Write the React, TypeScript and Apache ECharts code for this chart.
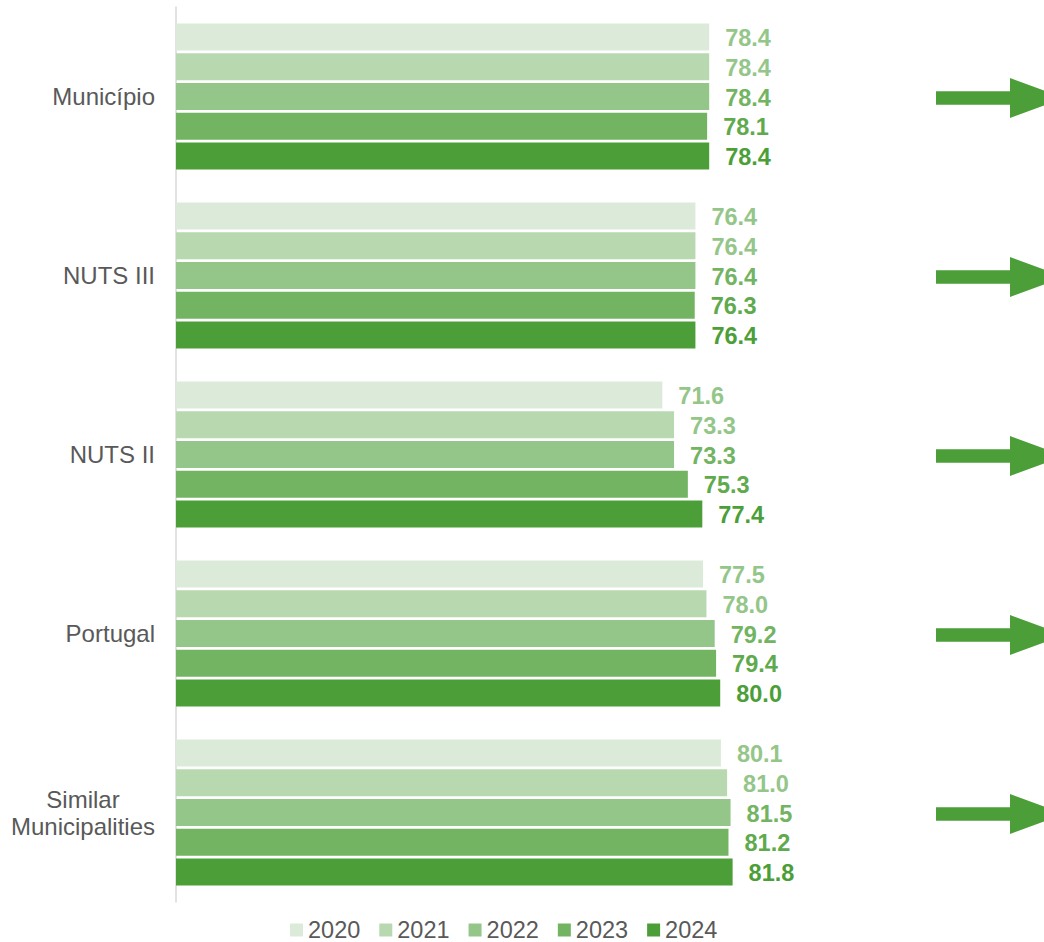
import React, { useEffect, useRef } from "react";
import * as echarts from "echarts";

const categories = ["Município", "NUTS III", "NUTS II", "Portugal", "Similar Municipalities"];
const years = ["2020", "2021", "2022", "2023", "2024"];
const values2020 = [78.4, 76.4, 71.6, 77.5, 80.1];
const values2021 = [78.4, 76.4, 73.3, 78.0, 81.0];
const values2022 = [78.4, 76.4, 73.3, 79.2, 81.5];
const values2023 = [78.1, 76.3, 75.3, 79.4, 81.2];
const values2024 = [78.4, 76.4, 77.4, 80.0, 81.8];
const seriesValues = [values2020, values2021, values2022, values2023, values2024];

const barColors = ["#DCEBD9", "#B8D8B0", "#94C689", "#72B462", "#4C9F38"];
const labelColors = ["#94C689", "#94C689", "#72B462", "#5FAA4D", "#4C9F38"];

const FONT = "'Liberation Sans', Arial, sans-serif";

export default function App() {
  const ref = useRef<HTMLDivElement>(null);

  useEffect(() => {
    document.body.style.margin = "0";
    if (!ref.current) return;
    const chart = echarts.init(ref.current, undefined, { renderer: "svg" });
    chart.setOption({
      animation: false,
      textStyle: { fontFamily: FONT },
      grid: { left: 176, right: 186, top: 7, height: 895 },
      legend: {
        left: 290,
        top: 918,
        padding: 0,
        itemWidth: 13,
        itemHeight: 13,
        itemGap: 19,
        icon: "rect",
        textStyle: { fontSize: 23.5, color: "#595959", fontFamily: FONT, lineHeight: 24 },
        data: years,
      },
      xAxis: {
        type: "value",
        min: 1,
        max: 100,
        show: false,
        splitLine: { show: false },
      },
      yAxis: {
        type: "category",
        inverse: true,
        data: categories,
        axisTick: { show: false },
        axisLine: { show: true, lineStyle: { color: "#D9D9D9", width: 1.5 } },
        axisLabel: {
          margin: 21,
          color: "#595959",
          fontSize: 24,
          fontFamily: FONT,
          formatter: (v: string) =>
            v === "Similar Municipalities" ? "{c|Similar}\n{c|Municipalities}" : "{c|" + v + "}",
          rich: {
            c: { align: "center", fontSize: 24, color: "#595959", lineHeight: 27, fontFamily: FONT },
          },
        },
      },
      series: years.map((y, i) => ({
        name: y,
        type: "bar",
        data: seriesValues[i],
        barCategoryGap: "18.3%",
        barGap: "10%",
        itemStyle: { color: barColors[i] },
        label: {
          show: true,
          position: "right",
          distance: 16,
          fontSize: 23.5,
          fontWeight: "bold",
          fontFamily: FONT,
          color: labelColors[i],
          offset: [0, 1],
          formatter: (p: any) => Number(p.value).toFixed(1),
        },
      })),
    });

    const arrows = categories.map((c) => {
      const yc = (chart.convertToPixel({ yAxisIndex: 0 }, c) as number) + 1.5;
      return {
        type: "polygon",
        shape: {
          points: [
            [936, yc - 6.7],
            [1010, yc - 6.7],
            [1010, yc - 20],
            [1064, yc],
            [1010, yc + 20],
            [1010, yc + 6.7],
            [936, yc + 6.7],
          ],
        },
        style: { fill: "#4C9F38" },
      };
    });
    chart.setOption({ graphic: arrows });

    return () => chart.dispose();
  }, []);

  return <div ref={ref} style={{ width: 1044, height: 942 }} />;
}
